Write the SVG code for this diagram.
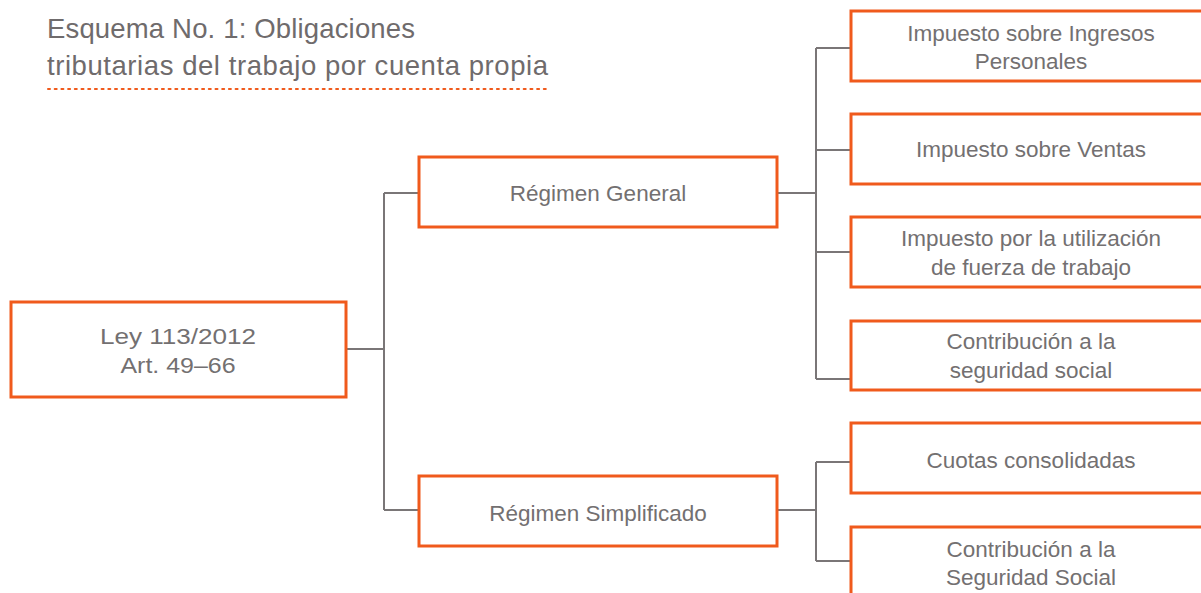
<svg xmlns="http://www.w3.org/2000/svg" width="1201" height="593" viewBox="0 0 1201 593">
<style>
.box{fill:#fff;stroke:#f05a1c;stroke-width:3}
.t{font-family:"Liberation Sans",Arial,sans-serif;font-size:22.5px;fill:#737071;text-anchor:middle}
.title{font-family:"Liberation Sans",Arial,sans-serif;font-size:27.5px;fill:#6f6b6c}
.c{fill:none;stroke:#7a7677;stroke-width:2}
</style>
<rect width="1201" height="593" fill="#fff"/>
<g id="title">
<text class="title" x="47" y="38" textLength="368" lengthAdjust="spacing">Esquema No. 1: Obligaciones</text>
<text class="title" x="47" y="75" textLength="501" lengthAdjust="spacing">tributarias del trabajo por cuenta propia</text>
<line x1="48" y1="89" x2="548" y2="89" stroke="#f05a1c" stroke-width="2" stroke-dasharray="2 4.7" stroke-linecap="round"/>
</g>
<g id="connectors">
<path class="c" d="M346 349H384M384 193V510M384 193H419M384 510H419"/>
<path class="c" d="M777 193H816M816 48V379M816 48H851M816 150H851M816 252H851M816 379H851"/>
<path class="c" d="M777 510H816M816 462V561M816 462H851M816 561H851"/>
</g>
<g id="ley">
<rect class="box" x="11" y="302" width="335" height="95"/>
<text class="t" x="178" y="344" textLength="156" lengthAdjust="spacingAndGlyphs">Ley 113/2012</text>
<text class="t" x="178" y="373" textLength="115" lengthAdjust="spacingAndGlyphs">Art. 49–66</text>
</g>
<g id="general">
<rect class="box" x="419" y="157" width="358" height="70"/>
<text class="t" x="598" y="201">Régimen General</text>
</g>
<g id="simplificado">
<rect class="box" x="419" y="476" width="358" height="70"/>
<text class="t" x="598" y="521">Régimen Simplificado</text>
</g>
<g id="isip">
<rect class="box" x="851" y="11" width="360" height="70"/>
<text class="t" x="1031" y="41">Impuesto sobre Ingresos</text>
<text class="t" x="1031" y="69">Personales</text>
</g>
<g id="isv">
<rect class="box" x="851" y="114" width="360" height="70"/>
<text class="t" x="1031" y="157">Impuesto sobre Ventas</text>
</g>
<g id="iuft">
<rect class="box" x="851" y="217" width="360" height="70"/>
<text class="t" x="1031" y="246">Impuesto por la utilización</text>
<text class="t" x="1031" y="275">de fuerza de trabajo</text>
</g>
<g id="css1">
<rect class="box" x="851" y="321" width="360" height="69"/>
<text class="t" x="1031" y="349">Contribución a la</text>
<text class="t" x="1031" y="378">seguridad social</text>
</g>
<g id="cuotas">
<rect class="box" x="851" y="423" width="360" height="70"/>
<text class="t" x="1031" y="468">Cuotas consolidadas</text>
</g>
<g id="css2">
<rect class="box" x="851" y="527" width="360" height="80"/>
<text class="t" x="1031" y="557">Contribución a la</text>
<text class="t" x="1031" y="585">Seguridad Social</text>
</g>
</svg>
